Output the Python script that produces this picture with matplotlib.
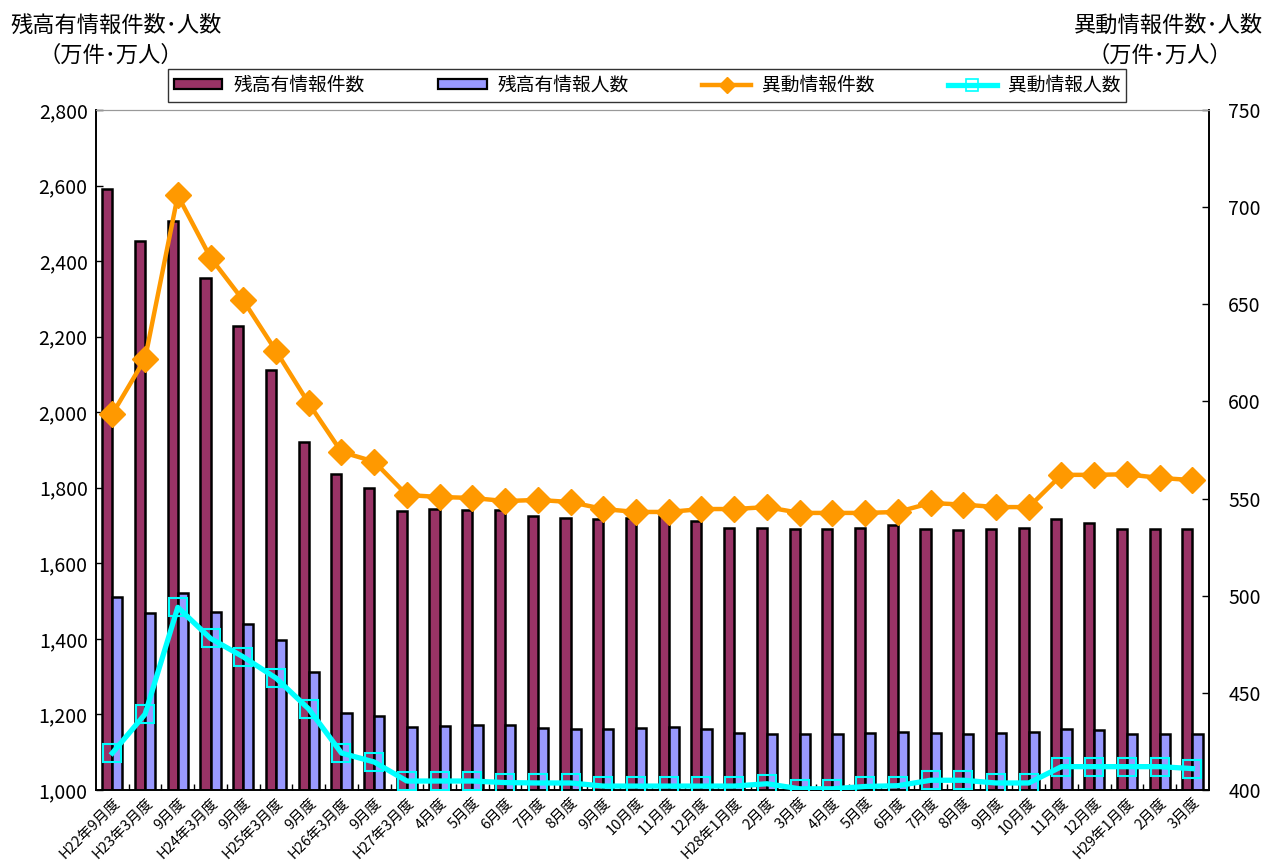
import matplotlib
matplotlib.use("Agg")
import matplotlib.pyplot as plt
import numpy as np
from matplotlib.patches import Patch
from matplotlib.lines import Line2D

plt.rcParams['font.family'] = ['Noto Sans CJK JP', 'DejaVu Sans']

# ── データ（万件・万人） ─────────────────────────────
labels = ["H22年9月度", "H23年3月度", "9月度", "H24年3月度", "9月度", "H25年3月度",
          "9月度", "H26年3月度", "9月度", "H27年3月度", "4月度", "5月度", "6月度",
          "7月度", "8月度", "9月度", "10月度", "11月度", "12月度", "H28年1月度",
          "2月度", "3月度", "4月度", "5月度", "6月度", "7月度", "8月度", "9月度",
          "10月度", "11月度", "12月度", "H29年1月度", "2月度", "3月度"]

zan_kensu = [2590, 2452, 2505, 2355, 2228, 2112, 1922, 1836, 1799, 1738, 1744, 1742,
             1742, 1725, 1720, 1717, 1720, 1725, 1712, 1693, 1693, 1691, 1691, 1693,
             1701, 1691, 1688, 1691, 1693, 1717, 1707, 1690, 1690, 1690]
zan_ninzu = [1512, 1468, 1521, 1470, 1439, 1397, 1312, 1204, 1196, 1167, 1169, 1172,
             1172, 1164, 1161, 1161, 1164, 1167, 1161, 1151, 1148, 1148, 1148, 1151,
             1154, 1151, 1148, 1151, 1153, 1162, 1158, 1148, 1148, 1148]
ido_kensu = [593.5, 622, 706, 674, 652, 626, 599, 574, 569, 551.8, 550.8, 550.3,
             548.7, 549.3, 548.2, 544.6, 543.1, 543.1, 544.6, 544.6, 545.6, 542.6,
             542.6, 542.6, 543.1, 547.7, 546.9, 545.6, 545.6, 562.2, 562.2, 562.5,
             560.6, 559.5]
ido_ninzu = [419, 439, 494, 478, 468.5, 457.6, 441.7, 419, 414.4, 404.6, 404.6, 404.6,
             403.8, 403.6, 403.6, 402.0, 402.0, 402.0, 402.0, 402.0, 403.2, 400.6,
             400.6, 401.8, 402.2, 405, 405, 403.6, 403.6, 412, 412, 412, 412, 411]

x = np.arange(len(labels))
w = 0.31

fig = plt.figure(figsize=(12.66, 8.66), dpi=100)
ax = fig.add_axes([0.0758, 0.0878, 0.879, 0.7852])

ax.bar(x - w / 2, zan_kensu, w, color="#993366", edgecolor="black", lw=1.8, zorder=2)
ax.bar(x + w / 2, zan_ninzu, w, color="#9999FF", edgecolor="black", lw=1.8, zorder=2)
ax.set_xlim(-0.5, len(labels) - 0.5)
ax.set_ylim(1000, 2800)
ax.set_yticks(np.arange(1000, 2801, 200))
ax.set_yticklabels([f"{v:,}" for v in range(1000, 2801, 200)], fontsize=14)
ax.tick_params(axis="y", direction="in", length=5, width=1, pad=6)

ax.set_xticks(x)
ax.set_xticklabels(labels, rotation=45, ha="right", rotation_mode="anchor", fontsize=10.5)
ax.tick_params(axis="x", which="major", length=0, pad=4)
ax.set_xticks(x[:-1] + 0.5, minor=True)
ax.tick_params(axis="x", which="minor", direction="in", length=4, width=1)

ax2 = ax.twinx()
ax2.plot(x, ido_kensu, color="#FF9900", lw=3.2, marker="D", ms=13, zorder=4)
ax2.plot(x, ido_ninzu, color="#00FFFF", lw=3.8, marker="s", ms=13,
         mfc="none", mec="#00FFFF", mew=1.5, zorder=3)
ax2.set_ylim(400, 750)
ax2.set_yticks(np.arange(400, 751, 50))
ax2.tick_params(axis="y", direction="in", length=5, width=1, labelsize=14, pad=14)

for a in (ax, ax2):
    a.spines["top"].set_color("#999999")
    a.spines["left"].set_linewidth(1.2)
    a.spines["right"].set_linewidth(1.2)
    a.spines["bottom"].set_linewidth(1.2)

# ── 軸タイトル ─────────────────────────────────────
fig.text(10 / 1266, 1 - 25 / 866, "残高有情報件数･人数", fontsize=16, va="center", ha="left")
fig.text(38 / 1266, 1 - 55 / 866, "（万件･万人）", fontsize=16, va="center", ha="left")
fig.text(1263 / 1266, 1 - 25 / 866, "異動情報件数･人数", fontsize=16, va="center", ha="right")
fig.text(1232 / 1266, 1 - 55 / 866, "（万件･万人）", fontsize=16, va="center", ha="right")

# ── 凡例 ─────────────────────────────────────────
handles = [
    Patch(facecolor="#993366", edgecolor="black", lw=1.6),
    Patch(facecolor="#9999FF", edgecolor="black", lw=1.6),
    Line2D([], [], color="#FF9900", lw=3.2, marker="D", ms=8),
    Line2D([], [], color="#00FFFF", lw=3.8, marker="s", ms=8, mfc="none", mew=1.2),
]
names = ["残高有情報件数", "残高有情報人数", "異動情報件数", "異動情報人数"]
leg = fig.legend(handles, names, loc="center", bbox_to_anchor=(647 / 1266, 1 - 85.5 / 866),
                 ncol=4, fontsize=13.5, frameon=True, fancybox=False, edgecolor="black",
                 handlelength=2.6, handleheight=0.45, columnspacing=3.9, handletextpad=0.6,
                 borderpad=0.3, borderaxespad=0)
leg.get_frame().set_linewidth(1.0)

fig.savefig("out.png", dpi=100)
